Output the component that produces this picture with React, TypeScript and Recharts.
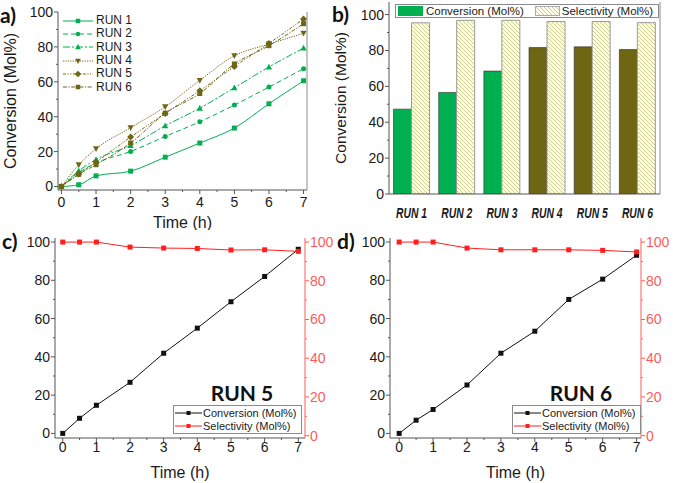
import { Bar, BarChart, Cell, ComposedChart, Legend, Line, LineChart, XAxis, YAxis } from "recharts";

const font = "'Liberation Sans', Arial, sans-serif";
const headFont = "Lato, 'Open Sans', sans-serif";
const green = "#00b050";
const olive = "#6f6614";
const red = "#ff1f1f";
const redAxis = "#ff5a5a";
const axisColor = "#555";
const frameColor = "#8a8a8a";
const ink = "#1a1a1a";

// time points (h)
const TIME = [0, 0.5, 1, 2, 3, 4, 5, 6, 7];

// panel a: conversion per run
const RUN1 = [0, 1, 6.1, 8.8, 16.8, 24.9, 33.5, 47.4, 60.6];
const RUN2 = [0, 8, 13.5, 20.1, 28.7, 37.1, 46.7, 57, 67.5];
const RUN3 = [0, 9, 15.5, 23.5, 34.8, 44.9, 56.6, 68.5, 79.3];
const RUN4 = [0, 12.4, 21.6, 33.7, 45.7, 60.8, 74.9, 81.6, 87.8];
const RUN5 = [0, 7.2, 14, 28.3, 41.9, 54.9, 68.8, 82, 96];
const RUN6 = [0, 7, 12.5, 24.9, 42, 53.3, 70.2, 80.7, 93.3];

// panel b
const RUNS = ["RUN 1", "RUN 2", "RUN 3", "RUN 4", "RUN 5", "RUN 6"];
const BAR_CONV = [47.3, 56.6, 68.5, 81.6, 82, 80.5];
const BAR_SEL = [95.4, 96.8, 96.8, 96.1, 96.1, 95.5];

// panels c, d
const CONV5 = [0, 7.9, 14.7, 26.7, 41.9, 55, 68.8, 82, 96.2];
const SEL5 = [100, 100, 100, 97.4, 96.9, 96.7, 95.9, 96, 95.2];
const CONV6 = [0, 6.9, 12.5, 25.3, 41.9, 53.4, 70, 80.6, 93.1];
const SEL6 = [100, 100, 100, 96.9, 96, 96, 96, 95.7, 94.9];

const X_TICKS = [0, 0.5, 1, 1.5, 2, 2.5, 3, 3.5, 4, 4.5, 5, 5.5, 6, 6.5, 7];
const Y_TICKS = [0, 10, 20, 30, 40, 50, 60, 70, 80, 90, 100];

const dataA = TIME.map((t, i) => ({
  t, r1: RUN1[i], r2: RUN2[i], r3: RUN3[i], r4: RUN4[i], r5: RUN5[i], r6: RUN6[i],
}));
const dataB = RUNS.map((run, i) => ({ run, conv: BAR_CONV[i], sel: BAR_SEL[i] }));

const seriesA = [
  { key: "r1", name: "RUN 1", color: green, dash: undefined, shape: "square" },
  { key: "r2", name: "RUN 2", color: green, dash: "5 3", shape: "circle" },
  { key: "r3", name: "RUN 3", color: green, dash: "7 2 2 2", shape: "tri" },
  { key: "r4", name: "RUN 4", color: olive, dash: "1.2 1.2", shape: "triDown" },
  { key: "r5", name: "RUN 5", color: olive, dash: "3 1.5 1.2 1.5 1.2 1.5", shape: "diamond" },
  { key: "r6", name: "RUN 6", color: olive, dash: "4 1.5 1.2 1.5", shape: "square" },
];

function Marker({ cx, cy, shape, color, s = 5 }: any) {
  if (cx == null || cy == null) return null;
  const h = s / 2;
  if (shape === "circle") return <circle cx={cx} cy={cy} r={h} fill={color} />;
  if (shape === "tri")
    return <polygon points={`${cx},${cy - h - 0.8} ${cx + h + 0.6},${cy + h} ${cx - h - 0.6},${cy + h}`} fill={color} />;
  if (shape === "triDown")
    return <polygon points={`${cx},${cy + h + 0.8} ${cx + h + 0.6},${cy - h} ${cx - h - 0.6},${cy - h}`} fill={color} />;
  if (shape === "diamond")
    return <polygon points={`${cx},${cy - h - 1} ${cx + h + 1},${cy} ${cx},${cy + h + 1} ${cx - h - 1},${cy}`} fill={color} />;
  return <rect x={cx - h} y={cy - h} width={s} height={s} fill={color} />;
}

// draws its own tick line (major/minor) and label; axes use tickSize=0 so x/y sit on the axis line
function AxisTick(p: any) {
  const { x, y, payload, side, every, fs = 14, gap = 5, col = ink, lineCol = axisColor } = p;
  const v = payload.value;
  const major = Math.abs(v / every - Math.round(v / every)) < 1e-6;
  const len = major ? 4 : 2;
  const txt = { fontFamily: font, fontSize: fs, fill: col };
  if (side === "bottom")
    return (
      <g>
        <line x1={x} y1={y} x2={x} y2={y + len} stroke={lineCol} />
        {major && <text x={x} y={y + gap} dy="0.71em" textAnchor="middle" {...txt}>{v}</text>}
      </g>
    );
  if (side === "top")
    return <line x1={x} y1={y} x2={x} y2={y + len} stroke={lineCol} />;
  if (side === "left")
    return (
      <g>
        <line x1={x} y1={y} x2={x - len} y2={y} stroke={lineCol} />
        {major && <text x={x - gap} y={y} dy="0.355em" textAnchor="end" {...txt}>{v}</text>}
      </g>
    );
  return (
    <g>
      <line x1={x} y1={y} x2={x + len} y2={y} stroke={lineCol} />
      {major && <text x={x + gap} y={y} dy="0.355em" textAnchor="start" {...txt}>{v}</text>}
    </g>
  );
}

const titleStyle = { fontFamily: font, fontSize: 16, fill: ink };

function LegendA() {
  return (
    <div style={{ fontFamily: font, fontSize: 12, color: ink, whiteSpace: "nowrap" }}>
      {seriesA.map((s) => (
        <div key={s.key} style={{ display: "flex", alignItems: "center", height: 13.3 }}>
          <svg width={30} height={12}>
            <line x1={0} y1={6} x2={30} y2={6} stroke={s.color} strokeDasharray={s.dash} />
            <Marker cx={15} cy={6} shape={s.shape} color={s.color} s={4.5} />
          </svg>
          <span style={{ marginLeft: 3, lineHeight: "13px" }}>{s.name}</span>
        </div>
      ))}
    </div>
  );
}

function PanelA() {
  return (
    <LineChart width={340} height={230} data={dataA} margin={{ top: 12, right: 32, bottom: 0, left: 0 }}>
      <XAxis dataKey="t" type="number" domain={[-0.1, 7.1]} allowDataOverflow ticks={X_TICKS} interval={0}
        tickSize={0} tickMargin={0} tickLine={false} axisLine={{ stroke: axisColor }} height={40}
        tick={(p: any) => <AxisTick {...p} side="bottom" every={1} fs={14} gap={7} />}
        label={{ value: "Time (h)", position: "insideBottom", offset: 2, style: titleStyle }} />
      <XAxis xAxisId="top" orientation="top" type="number" domain={[-0.1, 7.1]} allowDataOverflow height={0}
        tick={false} tickLine={false} axisLine={{ stroke: frameColor }} />
      <YAxis type="number" domain={[-2, 100]} allowDataOverflow ticks={Y_TICKS} interval={0} width={58}
        tickSize={0} tickMargin={0} tickLine={false} axisLine={{ stroke: axisColor }}
        tick={(p: any) => <AxisTick {...p} side="left" every={20} fs={14} gap={5} />}
        label={{ value: "Conversion (Mol%)", angle: -90, position: "insideLeft", offset: 10, style: { ...titleStyle, textAnchor: "middle" } }} />
      <YAxis yAxisId="r" orientation="right" type="number" domain={[-2, 100]} allowDataOverflow width={1}
        tick={false} tickLine={false} axisLine={{ stroke: frameColor }} />
      {seriesA.map((s) => (
        <Line key={s.key} type="monotone" dataKey={s.key} name={s.name} stroke={s.color} strokeWidth={1}
          strokeDasharray={s.dash} isAnimationActive={false}
          dot={(p: any) => <Marker key={`${s.key}-${p.index}`} cx={p.cx} cy={p.cy} shape={s.shape} color={s.color} />}
          activeDot={false} />
      ))}
      <Legend layout="horizontal" verticalAlign="middle" align="center" content={() => <LegendA />}
        wrapperStyle={{ left: 63, top: 14, width: 90 }} />
    </LineChart>
  );
}

function LegendB() {
  const item = { display: "flex", alignItems: "center" } as const;
  return (
    <div style={{ display: "flex", alignItems: "center", height: 12, border: `1px solid ${frameColor}`, background: "#fff",
      fontFamily: font, fontSize: 11.5, color: ink, width: 262, whiteSpace: "nowrap" }}>
      <div style={item}>
        <svg width={28} height={10} style={{ marginLeft: 2 }}><rect x={0} y={0} width={25} height={10} fill={green} /></svg>
        <span>Conversion (Mol%)</span>
      </div>
      <div style={{ ...item, marginLeft: 11 }}>
        <svg width={27} height={10}><rect x={0.5} y={0.5} width={24} height={9} fill="url(#hatch)" stroke="#aaa" /></svg>
        <span>Selectivity (Mol%)</span>
      </div>
    </div>
  );
}

function PanelB() {
  return (
    <BarChart width={343} height={230} data={dataB} margin={{ top: 2, right: 12, bottom: 0, left: 0 }}
      barCategoryGap="10%" barGap={0}>
      <defs>
        <pattern id="hatch" patternUnits="userSpaceOnUse" width={4} height={4}>
          <rect width={4} height={4} fill="#fcfce8" />
          <path d="M-1,-1 l2,2 M0,0 l4,4 M3,3 l2,2" stroke="#cfcf8c" strokeWidth={1} />
        </pattern>
      </defs>
      <XAxis dataKey="run" height={36} tickSize={0} tickMargin={0} tickLine={false} interval={0}
        axisLine={{ stroke: axisColor }}
        tick={(p: any) => (
          <text x={p.x} y={p.y + 24} textAnchor="middle" fontFamily={font} fontWeight="bold" fontStyle="italic"
            fontSize={15} fill={ink} textLength={31} lengthAdjust="spacingAndGlyphs">{p.payload.value}</text>
        )} />
      <XAxis xAxisId="top" orientation="top" dataKey="run" height={0} tick={false} tickLine={false}
        axisLine={{ stroke: frameColor }} />
      <YAxis type="number" domain={[0, 107]} allowDataOverflow ticks={Y_TICKS} interval={0} width={59}
        tickSize={0} tickMargin={0} tickLine={false} axisLine={{ stroke: axisColor }}
        tick={(p: any) => <AxisTick {...p} side="left" every={20} fs={14} gap={5} />}
        label={{ value: "Conversion (Mol%)", angle: -90, position: "insideLeft", offset: 10, style: { ...titleStyle, fontSize: 15.5, textAnchor: "middle" } }} />
      <YAxis yAxisId="r" orientation="right" type="number" domain={[0, 107]} allowDataOverflow width={1}
        tick={false} tickLine={false} axisLine={{ stroke: frameColor }} />
      <Bar dataKey="conv" name="Conversion (Mol%)" stroke="#2a2a2a" strokeWidth={0.6} isAnimationActive={false}>
        {dataB.map((d, i) => <Cell key={d.run} fill={i < 3 ? green : olive} />)}
      </Bar>
      <Bar dataKey="sel" name="Selectivity (Mol%)" fill="url(#hatch)" stroke="#9a9a9a" strokeWidth={1} isAnimationActive={false} />
      <Legend layout="horizontal" verticalAlign="middle" align="center" content={() => <LegendB />}
        wrapperStyle={{ left: 65, top: 4, width: 264 }} />
    </BarChart>
  );
}

function LegendRun({ title }: { title: string }) {
  const row = { display: "flex", alignItems: "center", height: 13.4 } as const;
  const sample = (c: string) => (
    <svg width={28} height={10} style={{ marginLeft: 1, flex: "none" }}>
      <line x1={0} y1={5} x2={27} y2={5} stroke={c} />
      <rect x={11.5} y={3} width={4} height={4} fill={c} />
    </svg>
  );
  return (
    <div style={{ whiteSpace: "nowrap" }}>
      <div style={{ fontFamily: headFont, fontWeight: 700, fontSize: 21, color: "#111", textAlign: "center",
        paddingLeft: 9, height: 24, lineHeight: "24px" }}>{title}</div>
      <div style={{ border: `1px solid ${frameColor}`, background: "#fff", fontFamily: font, fontSize: 11, color: ink,
        height: 29, boxSizing: "border-box" }}>
        <div style={row}>{sample("#111")}<span>Conversion (Mol%)</span></div>
        <div style={row}>{sample(red)}<span>Selectivity (Mol%)</span></div>
      </div>
    </div>
  );
}

function RunPanel({ conv, sel, title, width, rightW, xDomain, legendLeft }: any) {
  const data = TIME.map((t, i) => ({ t, conv: conv[i], sel: sel[i] }));
  return (
    <ComposedChart width={width} height={258} data={data} margin={{ top: 13, right: 0, bottom: 0, left: 0 }}>
      <XAxis dataKey="t" type="number" domain={xDomain} allowDataOverflow ticks={X_TICKS} interval={0}
        tickSize={0} tickMargin={0} tickLine={false} axisLine={{ stroke: axisColor }} height={45}
        tick={(p: any) => <AxisTick {...p} side="bottom" every={1} fs={14} gap={4} />}
        label={{ value: "Time (h)", position: "insideBottom", offset: 5, style: titleStyle }} />
      <XAxis xAxisId="top" orientation="top" type="number" domain={xDomain} allowDataOverflow ticks={X_TICKS} interval={0}
        height={0} tickSize={0} tickMargin={0} tickLine={false} axisLine={{ stroke: frameColor }}
        tick={(p: any) => <AxisTick {...p} side="top" every={1} lineCol={frameColor} />} />
      <YAxis yAxisId="l" type="number" domain={[-2.4, 102.1]} allowDataOverflow ticks={Y_TICKS} interval={0} width={55}
        tickSize={0} tickMargin={0} tickLine={false} axisLine={{ stroke: axisColor }}
        tick={(p: any) => <AxisTick {...p} side="left" every={20} fs={14} gap={5} />} />
      <YAxis yAxisId="r" orientation="right" type="number" domain={[-1.2, 102.1]} allowDataOverflow ticks={Y_TICKS}
        interval={0} width={rightW} tickSize={0} tickMargin={0} tickLine={false} axisLine={{ stroke: redAxis }}
        tick={(p: any) => <AxisTick {...p} side="right" every={20} fs={14} gap={5} col={redAxis} lineCol={redAxis} />} />
      <Line yAxisId="l" type="linear" dataKey="conv" name="Conversion (Mol%)" stroke="#111" strokeWidth={1}
        isAnimationActive={false} activeDot={false}
        dot={(p: any) => <Marker key={`c-${p.index}`} cx={p.cx} cy={p.cy} shape="square" color="#111" s={5} />} />
      <Line yAxisId="r" type="linear" dataKey="sel" name="Selectivity (Mol%)" stroke={red} strokeWidth={1}
        isAnimationActive={false} activeDot={false}
        dot={(p: any) => <Marker key={`s-${p.index}`} cx={p.cx} cy={p.cy} shape="square" color={red} s={5} />} />
      <Legend layout="horizontal" verticalAlign="middle" align="center" content={() => <LegendRun title={title} />}
        wrapperStyle={{ left: legendLeft, top: 156, width: 129 }} />
    </ComposedChart>
  );
}

const tag = { position: "absolute", fontFamily: headFont, fontWeight: 700, fontSize: 21, color: "#111", lineHeight: "22px" } as const;

export default function App() {
  return (
    <div style={{ position: "absolute", left: 0, top: 0, width: 673, height: 483, background: "#fff", overflow: "hidden" }}>
      <div style={{ position: "absolute", left: 0, top: 0 }}><PanelA /></div>
      <div style={{ position: "absolute", left: 330, top: 0 }}><PanelB /></div>
      <div style={{ position: "absolute", left: 0, top: 225 }}>
        <RunPanel conv={CONV5} sel={SEL5} title="RUN 5" width={335} rightW={30} xDomain={[-0.23, 7.2]} legendLeft={173} />
      </div>
      <div style={{ position: "absolute", left: 335, top: 225 }}>
        <RunPanel conv={CONV6} sel={SEL6} title="RUN 6" width={338} rightW={32} xDomain={[-0.27, 7.13]} legendLeft={177} />
      </div>
      <div style={{ ...tag, left: 0, top: 4 }}>a)</div>
      <div style={{ ...tag, left: 332, top: 3 }}>b)</div>
      <div style={{ ...tag, left: 2, top: 230 }}>c)</div>
      <div style={{ ...tag, left: 337, top: 230 }}>d)</div>
    </div>
  );
}
